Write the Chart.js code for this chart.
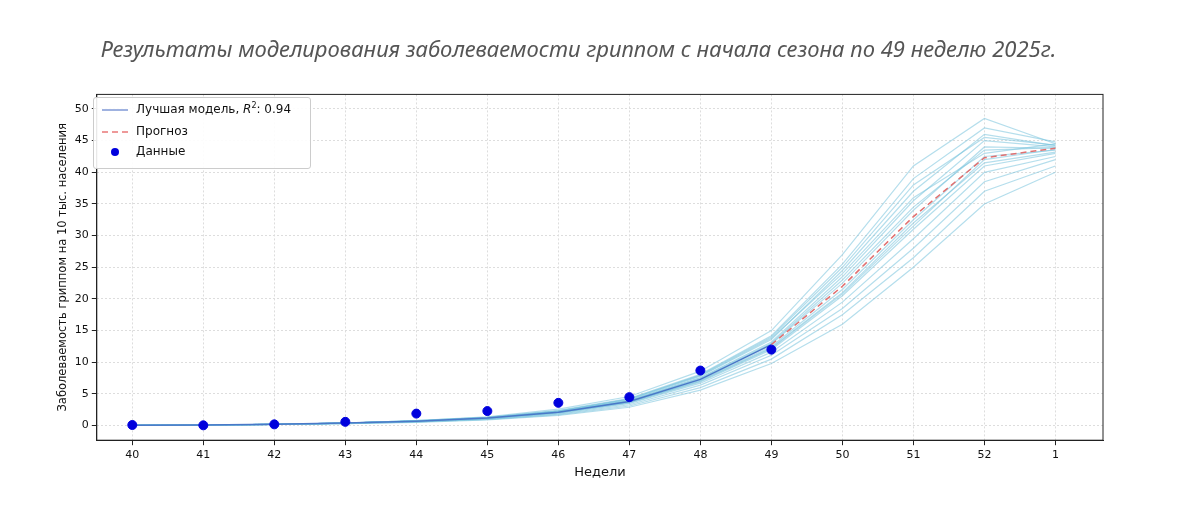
<!DOCTYPE html>
<html><head><meta charset="utf-8">
<script src="https://cdn.jsdelivr.net/npm/chart.js@4"></script>
<style>
body{margin:0;background:#fff;}
#wrap{position:relative;width:1200px;height:507px;}
#legend{position:absolute;left:93px;top:97px;width:216px;height:70px;background:rgba(255,255,255,0.9);border:1px solid #ccc;border-radius:3px;font:12px "DejaVu Sans",sans-serif;color:#111;}
#legend div{position:absolute;left:42px;}
.ln{position:absolute;left:8px;width:26px;height:2px;}
</style></head><body>
<div id="wrap"><canvas id="c" width="1200" height="507"></canvas>
<div id="legend">
<span class="ln" style="top:11px;background:#9fb2e0"></span><div style="top:3px">Лучшая модель, <i>R</i><sup style="font-size:8px">2</sup>: 0.94</div>
<span class="ln" style="top:33px;background:repeating-linear-gradient(90deg,#e99 0 6px,transparent 6px 10px)"></span><div style="top:26px">Прогноз</div>
<span style="position:absolute;left:17px;top:50px;width:8px;height:8px;border-radius:50%;background:#0000dd"></span><div style="top:46px">Данные</div>
</div></div>
<script>
const weeks=["40","41","42","43","44","45","46","47","48","49","50","51","52","1"];
const observed=[0.1,0.05,0.2,0.6,1.9,2.3,3.6,4.5,8.7,12.0];
const bestModel=[0.05,0.1,0.2,0.4,0.7,1.2,2.1,3.8,7.3,12.8];
const forecast=[null,null,null,null,null,null,null,null,null,12.8,22,33,42.3,43.8];
const ens1=[0.05,0.1,0.2,0.4,0.8,1.4,2.6,4.6,8.6,15.0,27.0,41.0,48.5,44.5];
const ens2=[0.05,0.1,0.2,0.4,0.8,1.3,2.4,4.3,8.1,14.2,25.5,39.0,47.0,44.8];
const ens3=[0.05,0.1,0.2,0.4,0.7,1.3,2.3,4.1,7.8,13.6,24.5,37.0,46.0,44.2];
const ens4=[0.05,0.1,0.2,0.4,0.7,1.2,2.2,4.0,7.6,13.2,23.5,35.5,45.0,44.0];
const ens5=[0.05,0.1,0.2,0.4,0.7,1.2,2.2,3.9,7.4,12.9,22.5,34.0,44.0,43.8];
const ens6=[0.05,0.1,0.2,0.4,0.7,1.2,2.1,3.8,7.2,12.5,21.5,32.5,42.5,43.5];
const ens7=[0.05,0.1,0.2,0.4,0.7,1.1,2.0,3.6,6.9,12.0,20.5,31.0,41.0,43.0];
const ens8=[0.05,0.1,0.2,0.4,0.6,1.1,1.9,3.5,6.7,11.6,19.5,29.5,40.0,42.5];
const ens9=[0.05,0.1,0.2,0.3,0.6,1.0,1.8,3.3,6.4,11.1,18.5,28.0,38.5,42.0];
const ens10=[0.05,0.1,0.2,0.3,0.6,1.0,1.7,3.1,6.0,10.5,17.5,26.5,37.0,41.0];
const ens11=[0.05,0.1,0.2,0.3,0.5,0.9,1.6,2.9,5.6,9.8,16.0,25.0,35.0,40.0];
const ens12=[0.05,0.1,0.2,0.4,0.7,1.2,2.3,4.2,7.9,13.8,24.0,36.0,43.0,44.5];
const ens13=[0.05,0.1,0.2,0.4,0.7,1.2,2.2,3.9,7.5,13.0,23.0,34.5,43.5,43.9];
const ens14=[0.05,0.1,0.2,0.4,0.7,1.2,2.1,3.7,7.1,12.3,21.0,32.0,41.5,43.2];
const ens15=[0.05,0.1,0.2,0.4,0.7,1.1,2.0,3.7,7.0,12.2,20.8,31.5,42.0,43.6];
const ens16=[0.05,0.1,0.2,0.4,0.8,1.3,2.3,4.2,8.0,14.0,25.0,38.0,45.5,44.3];
const ensembles=[ens1,ens2,ens3,ens4,ens5,ens6,ens7,ens8,ens9,ens10,ens11,ens12,ens13,ens14,ens15,ens16];
const yTicks=[0,5,10,15,20,25,30,35,40,45,50];

const pts=a=>a.map((v,i)=>v==null?null:{x:i,y:v}).filter(p=>p);
const ds=ensembles.map(a=>({data:pts(a),borderColor:'rgba(120,195,220,0.55)',borderWidth:1.2,pointRadius:0,showLine:true,order:5}));
ds.push({data:pts(bestModel),borderColor:'#4a78c8',borderWidth:1.5,pointRadius:0,showLine:true,order:2});
ds.push({data:pts(forecast),borderColor:'#e07070',borderDash:[6,4],borderWidth:1.5,pointRadius:0,showLine:true,order:2});
ds.push({data:pts(observed),backgroundColor:'#0000dd',borderColor:'#0000dd',pointRadius:4.5,showLine:false,order:1});

const frame={id:'frame',afterDatasetsDraw(c){const {ctx,chartArea:a}=c;ctx.save();ctx.strokeStyle='#222';ctx.lineWidth=1;ctx.strokeRect(a.left,a.top,a.right-a.left,a.bottom-a.top);ctx.restore();}};
new Chart(document.getElementById('c'),{type:'scatter',data:{datasets:ds},plugins:[frame],
options:{responsive:false,animation:false,events:[],
layout:{padding:{left:54,right:97,top:0,bottom:27}},
plugins:{legend:{display:false},tooltip:{enabled:false},
title:{display:true,text:'Результаты моделирования заболеваемости гриппом с начала сезона по 49 неделю 2025г.',color:'#555',font:{family:'Noto Sans',style:'italic',weight:'normal',size:22},padding:{top:38,bottom:30}}},
scales:{
x:{type:'linear',min:-0.5,max:13.67,afterBuildTicks(s){s.ticks=weeks.map((w,i)=>({value:i}));},
ticks:{callback:(v)=>weeks[v],color:'#111',font:{family:'DejaVu Sans',size:11},autoSkip:false,maxRotation:0},
grid:{color:'#ddd',tickColor:'#222',tickLength:5},border:{color:'#222',dash:[2,2]},
title:{display:true,text:'Недели',color:'#111',font:{family:'DejaVu Sans',size:13},padding:0}},
y:{min:-2.3,max:52.3,afterBuildTicks(s){s.ticks=yTicks.map(v=>({value:v}));},
ticks:{color:'#111',font:{family:'DejaVu Sans',size:11}},
grid:{color:'#ddd',tickColor:'#222',tickLength:5},border:{color:'#222',dash:[2,2]},
title:{display:true,text:'Заболеваемость гриппом на 10 тыс. населения',color:'#111',font:{family:'DejaVu Sans',size:11.5},padding:2}}}}});
</script></body></html>
